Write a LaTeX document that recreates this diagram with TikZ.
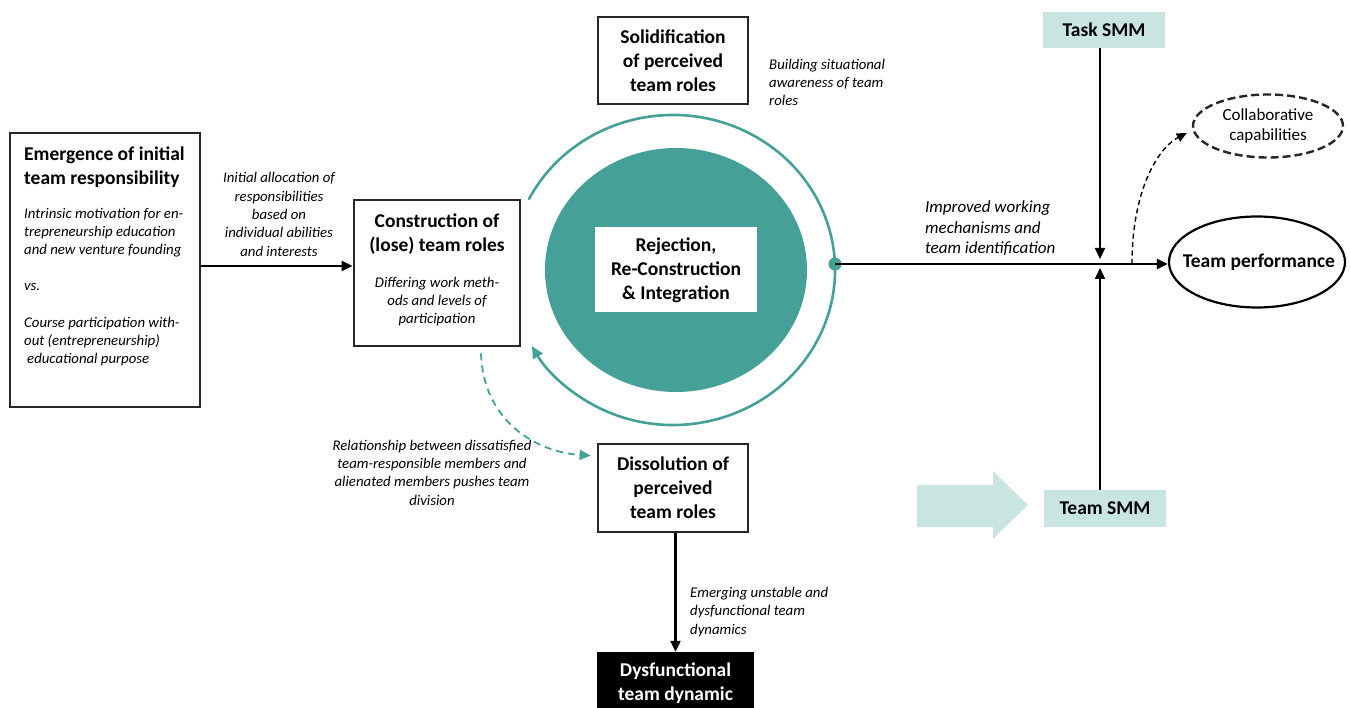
\documentclass[tikz,border=0pt]{standalone}
\usepackage{fontspec}
\setmainfont{Carlito}
\usetikzlibrary{arrows.meta,shapes.geometric}

\definecolor{teal1}{RGB}{69,161,152}
\definecolor{teal2}{RGB}{201,229,225}
\definecolor{boxline}{RGB}{38,38,38}

\tikzset{
  rolebox/.style={draw=boxline, line width=2.8pt, fill=white, inner sep=0pt},
  titletext/.style={align=center, inner sep=0pt, font=\bfseries\fontsize{19.5}{24}\selectfont},
  notetext/.style={align=center, inner sep=0pt, font=\itshape\fontsize{14.8}{18.3}\selectfont},
  smmbox/.style={fill=teal2, minimum width=122pt, minimum height=36pt, inner sep=0pt, font=\bfseries\fontsize{19.5}{22}\selectfont},
  flow/.style={line width=2.2pt, -{Triangle[length=11pt,width=10pt]}},
}

\begin{document}
\begin{tikzpicture}[x=1pt,y=-1pt]
\useasboundingbox (0,0) rectangle (1350,708);

% emergence of initial team responsibility
\node [rolebox, minimum width=190pt, minimum height=274pt] (emerg) at (105,270) {};
\node [titletext, align=left, anchor=west] (emergt) at (24,167.5) {Emergence of initial\\team responsibility};
\node [notetext, align=left, anchor=west] (emergn) at (24,287) {Intrinsic motivation for en-\\trepreneurship education\\and new venture founding\\[18pt]vs.\\[18pt]Course participation with-\\out (entrepreneurship)\\\hspace{3pt}educational purpose};

% construction of team roles
\node [rolebox, minimum width=166pt, minimum height=146pt] (constr) at (437,273) {};
\node [titletext] (constrt) at (437,234) {Construction of\\(lose) team roles};
\node [notetext] (constrn) at (437,301.5) {Differing work meth-\\ods and levels of\\participation};

% solidification / dissolution
\node [rolebox, minimum width=150pt, minimum height=87pt] (solid) at (673,60.5) {};
\node [titletext] (solidt) at (673,61) {Solidification\\of perceived\\team roles};
\node [notetext, align=left, anchor=west] (solidn) at (769,82.5) {Building situational\\awareness of team\\roles};

\node [rolebox, minimum width=150pt, minimum height=88pt] (dissol) at (673,488) {};
\node [titletext] (dissolt) at (673,488) {Dissolution of\\perceived\\team roles};

% dysfunctional team dynamic
\node [fill=black, text=white, titletext, minimum width=157pt, minimum height=62pt] (dysf) at (675.5,683) {Dysfunctional\\team dynamic};

% core circle and ring
\node [ellipse, fill=teal1, minimum width=262pt, minimum height=244pt] (core) at (676,270) {};
\node [fill=white, titletext, minimum width=162pt, minimum height=85pt] (rerc) at (676,270) {Rejection,\\Re-Construction\\\& Integration};
\draw [teal1, line width=2.6pt, -{Triangle[length=12pt,width=11pt]}] (673,270) ++(207:162 and 155) arc [start angle=207, end angle=510.6, x radius=162, y radius=155];
\node [circle, fill=teal1, minimum size=13pt, inner sep=0pt] (hub) at (835,264) {};

% SMM boxes
\node [smmbox] (task) at (1104,30) {Task SMM};
\node [smmbox, minimum height=37pt] (teamsmm) at (1105,508.5) {Team SMM};
\fill [teal2] (917,485)--(993,485)--(993,471)--(1028,505)--(993,539)--(993,527)--(917,527)--cycle;

% outcomes
\node [ellipse, draw=black, line width=2.2pt, minimum width=176pt, minimum height=91pt, inner sep=0pt] (perf) at (1257,262) {};
\node [inner sep=0pt, font=\bfseries\fontsize{19.5}{24}\selectfont] (perft) at (1259,262) {Team performance};
\node [ellipse, draw=boxline, line width=2.4pt, dash pattern=on 8pt off 4pt, minimum width=150pt, minimum height=63pt, inner sep=0pt, align=center, font=\fontsize{17}{20}\selectfont] (collab) at (1268,126) {Collaborative\\capabilities};

\coordinate (meet) at (1100,264);
\coordinate (branch) at (1132,264);

% connectors
\draw [flow] ([yshift=4pt]emerg.east) -- ([yshift=4pt]emerg.east -| constr.west);
\node [notetext] (allocn) at (279,214.5) {Initial allocation of\\responsibilities\\based on\\individual abilities\\and interests};

\draw [flow] (hub.center) -- (hub.center -| perf.west);
\node [align=left, anchor=west, inner sep=0pt, font=\itshape\fontsize{17}{20.5}\selectfont] (impn) at (925,228.5) {Improved working\\mechanisms and\\team identification};

\draw [flow] (task.south -| meet) -- ([yshift=5pt]meet);
\draw [flow] (teamsmm.north -| meet) -- ([yshift=-4pt]meet);

\draw [line width=1.4pt, dash pattern=on 5pt off 3.5pt, -{Triangle[length=10pt,width=9pt]}] (branch) .. controls (1132,190) and (1158,148) .. ([xshift=-5pt,yshift=-7pt]collab.west);

\draw [teal1, line width=1.8pt, dash pattern=on 7pt off 5pt, -{Triangle[length=11pt,width=10pt]}] ([xshift=44pt,yshift=-6pt]constr.south) .. controls (483,420) and (535,452) .. ([xshift=-6pt,yshift=-13pt]dissol.north west);
\node [notetext] (reln) at (432,472.5) {Relationship between dissatisfied\\team-responsible members and\\alienated members pushes team\\division};

\draw [flow] (dissol.south -| dysf.north) -- (dysf.north);
\node [notetext, align=left, anchor=west] (emergingn) at (690,612) {Emerging unstable and\\dysfunctional team\\dynamics};

\end{tikzpicture}
\end{document}
